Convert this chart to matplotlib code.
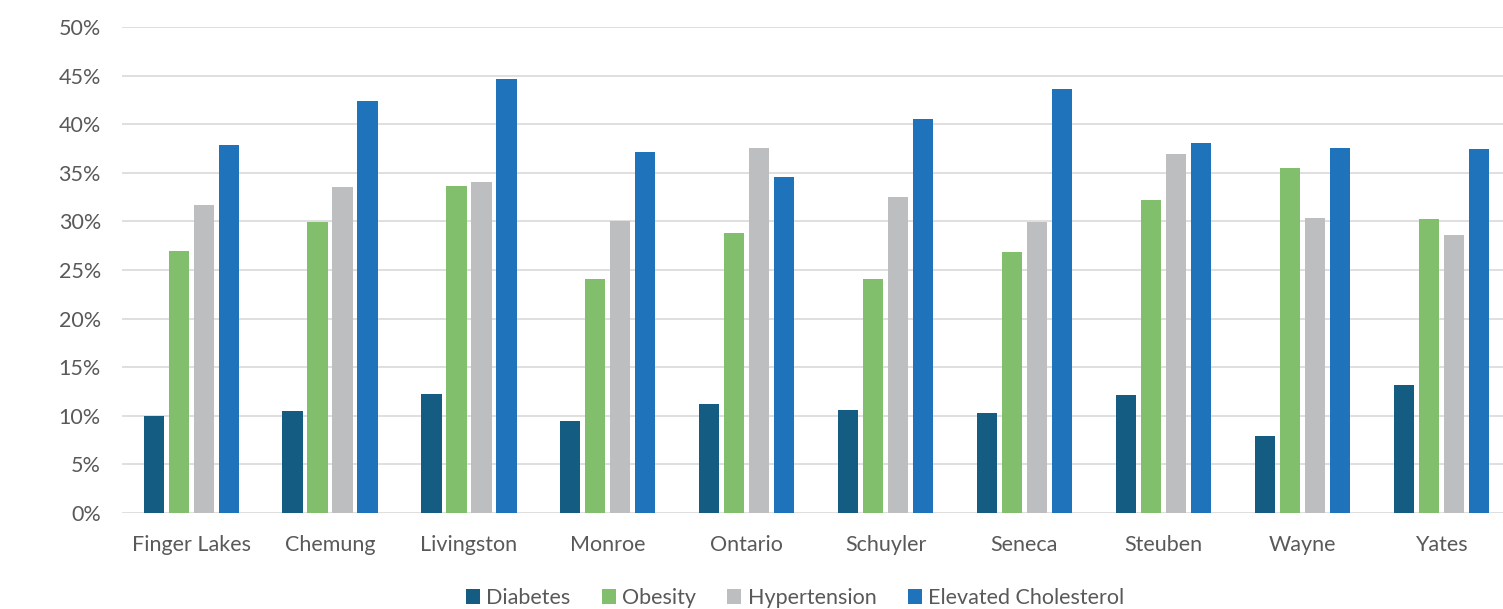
import numpy as np
from matplotlib import pyplot as plt
from matplotlib.ticker import MultipleLocator, FuncFormatter

counties = ['Finger Lakes', 'Chemung', 'Livingston', 'Monroe', 'Ontario',
            'Schuyler', 'Seneca', 'Steuben', 'Wayne', 'Yates']
diabetes = [10.0, 10.5, 12.2, 9.5, 11.2, 10.6, 10.3, 12.1, 7.9, 13.2]
obesity = [27.0, 29.9, 33.6, 24.1, 28.8, 24.1, 26.9, 32.2, 35.5, 30.2]
hypertension = [31.7, 33.5, 34.1, 30.0, 37.6, 32.5, 29.9, 36.9, 30.4, 28.6]
cholesterol = [37.9, 42.4, 44.6, 37.1, 34.6, 40.5, 43.6, 38.1, 37.6, 37.4]

series = [('Diabetes', diabetes, '#145c82'),
          ('Obesity', obesity, '#82bf6c'),
          ('Hypertension', hypertension, '#bdbec0'),
          ('Elevated Cholesterol', cholesterol, '#1f73bb')]

plt.rcParams['font.family'] = ['Lato', 'DejaVu Sans']
text_color = '#595959'

fig = plt.figure(figsize=(15.03, 6.09), dpi=100)
ax = fig.add_axes([0.081, 0.1576, 0.924, 0.7981])

x = np.arange(len(counties))
pitch = 0.18
width = 0.145
for i, (name, vals, color) in enumerate(series):
    ax.bar(x + (i - 1.5) * pitch, vals, width, color=color, label=name, zorder=3)

ax.set_xlim(-0.5, 9.5)
ax.set_ylim(0, 50)
ax.yaxis.set_major_locator(MultipleLocator(5))
ax.yaxis.set_major_formatter(FuncFormatter(lambda v, p: '%d%%' % v))
ax.grid(axis='y', color='#d9d9d9', linewidth=1.2, zorder=0)
for s in ax.spines.values():
    s.set_visible(False)
ax.set_xticks(x)
ax.set_xticklabels(counties)
ax.tick_params(axis='both', length=0, labelsize=15.5, colors=text_color)
ax.tick_params(axis='x', pad=16)
ax.tick_params(axis='y', pad=15)

leg = fig.legend(loc='lower center', bbox_to_anchor=(0.529, -0.03), ncol=4,
                 frameon=False, fontsize=15.5, handlelength=0.65, handleheight=0.65,
                 handletextpad=0.3, columnspacing=1.45)
for t in leg.get_texts():
    t.set_color(text_color)

fig.savefig('out.png', dpi=100)
